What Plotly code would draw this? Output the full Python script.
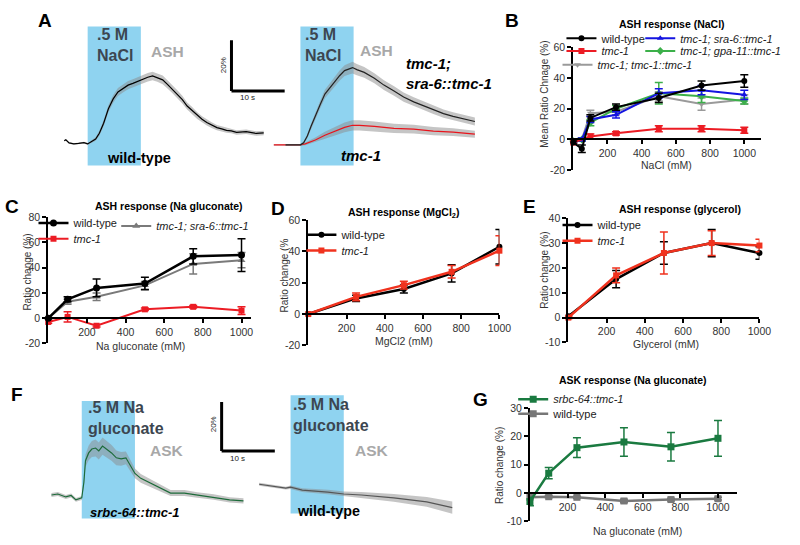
import plotly.graph_objects as go

W, H = 800, 545
FONT = "Liberation Sans, Arial, Helvetica, sans-serif"

# ======================= DATA =======================
# Panel A: ASH calcium traces (time s from stimulus onset, ratio change %, sem)
a_wt_t = [-4.4, -4.1, -3.5, -2.6, -1.7, -0.7, 0.0, 0.7, 1.5, 2.2, 3.0, 3.9, 4.8, 5.7, 6.7, 7.6, 8.5, 9.4, 10.4, 11.3,
          12.2, 13.1, 14.1, 15.0, 15.9, 16.9, 17.8, 18.7, 19.6, 20.6, 21.5, 22.4, 23.3, 24.3, 25.2, 26.1, 27.0, 28.0,
          29.8, 31.7, 33.1]
a_wt_v = [1.2, 1.6, 0.4, 0.0, 0.2, 0.5, 0.0, 0.8, 1.9, 4.2, 8.1, 13.8, 17.7, 20.4, 21.9, 23.1, 23.8, 24.6, 25.4, 26.2,
          26.7, 26.1, 25.2, 23.4, 21.6, 19.5, 17.4, 14.9, 13.2, 11.1, 9.7, 8.4, 7.4, 6.4, 5.9, 5.3, 5.1, 4.5,
          4.8, 4.1, 4.3]
a_wt_sem = [0.3, 0.3, 0.3, 0.3, 0.3, 0.3, 0.4, 0.5, 0.7, 1.0, 1.2, 1.4, 1.5, 1.6, 1.6, 1.6, 1.6, 1.7, 1.7, 1.7,
            1.7, 1.7, 1.7, 1.6, 1.6, 1.5, 1.5, 1.4, 1.4, 1.3, 1.2, 1.2, 1.1, 1.0, 1.0, 0.9, 0.9, 0.9,
            0.9, 0.9, 0.9]

a_res_t = [-2.8, -0.9, 0.0, 0.6, 1.3, 2.0, 2.8, 3.7, 4.6, 5.6, 6.5, 7.4, 8.3, 9.3, 9.8, 10.6, 12.0, 13.9, 15.7, 17.6,
           19.4, 21.3, 23.1, 25.0, 26.9, 28.7, 30.6, 32.8]
a_res_v = [0.0, 0.0, 0.0, 0.8, 3.5, 7.3, 11.5, 15.8, 20.0, 22.7, 25.0, 27.3, 29.2, 30.0, 30.4, 29.6, 28.5, 26.2, 23.5,
           21.2, 18.8, 16.9, 15.4, 13.8, 12.3, 11.2, 10.4, 9.2]
a_res_sem = [0.3, 0.3, 0.3, 0.5, 0.8, 1.0, 1.3, 1.5, 1.7, 1.8, 1.9, 2.0, 2.1, 2.2, 2.3, 2.2, 2.1, 2.0, 1.9, 1.9,
             1.8, 1.8, 1.7, 1.7, 1.6, 1.6, 1.6, 1.6]

a_mut_t = [-5.0, -3.7, -1.9, 0.0, 0.9, 2.8, 4.6, 6.5, 8.3, 9.8, 11.1, 13.9, 17.6, 21.3, 25.0, 28.7, 32.8]
a_mut_v = [0.0, 0.0, 0.0, 0.0, 0.4, 1.9, 3.8, 5.4, 6.9, 7.7, 7.7, 7.3, 6.5, 6.2, 5.4, 5.0, 4.2]
a_mut_sem = [0.3, 0.3, 0.3, 0.3, 0.5, 1.0, 1.4, 1.7, 1.9, 2.0, 2.0, 1.9, 1.8, 1.7, 1.6, 1.5, 1.4]

# Panel F: ASK traces
f_ask_t = [-5.7, -4.5, -3.0, -2.0, -1.1, 0.0, 0.4, 0.7, 1.3, 1.9, 2.6, 3.2, 3.9, 4.6, 5.6, 6.5, 7.4, 8.3, 9.1, 10.0,
           11.1, 13.0, 14.8, 16.7, 19.3, 21.7, 24.8, 27.8, 30.4]
f_ask_v = [0.8, 1.2, 0.0, 0.6, -1.2, -0.4, 6.0, 14.8, 18.0, 19.6, 20.0, 18.8, 20.8, 19.6, 18.0, 16.0, 15.6, 16.0, 12.8,
           9.6, 7.6, 5.6, 3.6, 1.6, 1.6, 0.8, 0.0, -1.2, -1.6]
f_ask_sem = [0.8, 0.8, 0.8, 0.8, 0.8, 0.8, 1.5, 2.5, 3.0, 3.3, 3.5, 3.5, 3.5, 3.4, 3.2, 3.0, 2.8, 2.6, 2.3, 2.0,
             1.8, 1.5, 1.3, 1.2, 1.2, 1.1, 1.1, 1.1, 1.1]

f_wt_t = [-5.9, -3.3, -0.9, 0.0, 2.2, 7.0, 10.0, 13.3, 19.4, 25.6, 30.4]
f_wt_v = [1.2, 0.4, -0.4, 0.0, -1.2, -2.0, -2.8, -3.2, -4.4, -6.0, -8.4]
f_wt_sem = [0.6, 0.6, 0.6, 0.7, 0.8, 0.9, 1.0, 1.2, 1.6, 2.0, 2.5]

stim = [0, 10]          # stimulus window, s
scale_t, scale_v = 10, 20   # scale bar: 10 s, 20 %

# Panel B: ASH response (NaCl)
b_conc = [0, 50, 100, 250, 500, 750, 1000]
b_wt = [-2, -6, 14, 21, 27, 35, 38]
b_wt_err = [1, 2.5, 2, 2, 3, 3, 4]
b_mut_conc = [0, 100, 250, 500, 750, 1000]
b_mut = [-2, 2, 4, 7, 7, 6]
b_mut_err = [1, 1.5, 1, 2, 2, 2]
b_sra6 = [-1, 0, 13, 16, 30, 32, 29]
b_sra6_err = [1, 1, 2, 2, 3, 3, 3]
b_gpa11 = [-1, 0, 11, 20, 30, 28, 25]
b_gpa11_err = [1, 1, 2, 2, 7, 4, 2]
b_tmc1 = [-1, 0, 17, 18, 28, 23, 26]
b_tmc1_err = [1, 1, 2, 2, 3, 4, 3]

# Panel C: ASH response (Na gluconate)
c_conc = [0, 100, 250, 500, 750, 1000]
c_wt = [0, 15, 24, 27.5, 49, 50]
c_wt_err = [0.5, 2, 7, 5, 6, 13]
c_mut = [-3, 1, -6, 7, 9, 6]
c_mut_err = [1, 4, 1, 1, 1, 3]
c_res = [0, 13, 17, 26, 43, 46]
c_res_err = [0.5, 2, 3, 3, 8, 6]

# Panel D: ASH response (MgCl2)
d_conc = [0, 250, 500, 750, 1000]
d_wt = [0, 10, 16, 26, 43]
d_wt_err = [0, 2, 2.5, 5.5, 11]
d_mut = [0, 11, 18.5, 27, 40.5]
d_mut_err = [0, 2.5, 2.5, 4, 9.5]

# Panel E: ASH response (glycerol)
e_conc = [0, 250, 500, 750, 1000]
e_wt = [0.5, 15.5, 26, 30, 26]
e_wt_err = [0.5, 3.5, 4.5, 5.5, 2.5]
e_mut = [0, 17, 26, 30, 29]
e_mut_err = [0.5, 3, 8.5, 5, 2.5]

# Panel G: ASK response (Na gluconate)
g_conc = [0, 100, 250, 500, 750, 1000]
g_ask = [-3, 7, 16, 18, 16.3, 19.3]
g_ask_err = [1.5, 2, 3.5, 5, 5, 6.3]
g_wt = [-1.5, -1.3, -1.5, -2.8, -2.3, -2.0]
g_wt_err = [0.5, 0.4, 0.4, 0.6, 0.5, 0.5]

# ======================= HELPERS =======================
def px(x):
    return x / W


def py(y):
    return 1 - y / H


fig = go.Figure()
layout = {}
shapes = []
annotations = []


def names(n):
    s = '' if n == 1 else str(n)
    return 'xaxis' + s, 'yaxis' + s, 'x' + s, 'y' + s


def trace_panel(n, xpx, ypx, onset_px, base_px, pps, ppp):
    xa, ya, xr, yr = names(n)
    layout[xa] = dict(domain=[px(xpx[0]), px(xpx[1])],
                      range=[(xpx[0] - onset_px) / pps, (xpx[1] - onset_px) / pps],
                      visible=False, anchor=yr, fixedrange=True)
    layout[ya] = dict(domain=[py(ypx[1]), py(ypx[0])],
                      range=[(base_px - ypx[1]) / ppp, (base_px - ypx[0]) / ppp],
                      visible=False, anchor=xr, fixedrange=True)


def stim_box(n, top_px, bot_px):
    _, _, xr, _ = names(n)
    shapes.append(dict(type='rect', xref=xr, yref='paper', x0=stim[0], x1=stim[1],
                       y0=py(bot_px), y1=py(top_px), fillcolor='#8fd3f0',
                       line=dict(width=0), layer='below'))


def scale_bar(n, t0, v0):
    _, _, xr, yr = names(n)
    ln = dict(color='black', width=3)
    shapes.append(dict(type='line', xref=xr, yref=yr, x0=t0, x1=t0, y0=v0, y1=v0 + scale_v, line=ln))
    shapes.append(dict(type='line', xref=xr, yref=yr, x0=t0, x1=t0 + scale_t, y0=v0, y1=v0, line=ln))


def trace_line(n, t, v, sem, color, width=1.2, band='rgba(140,140,140,0.5)'):
    _, _, xr, yr = names(n)
    up = [a + b for a, b in zip(v, sem)]
    lo = [a - b for a, b in zip(v, sem)]
    fig.add_trace(go.Scatter(x=t + t[::-1], y=up + lo[::-1], fill='toself', fillcolor=band,
                             line=dict(width=0), mode='lines', hoverinfo='skip', showlegend=False,
                             xaxis=xr, yaxis=yr))
    fig.add_trace(go.Scatter(x=t, y=v, mode='lines', line=dict(color=color, width=width),
                             showlegend=False, xaxis=xr, yaxis=yr))


def chart_panel(n, xpx, ypx, xrange, yrange, xticks, yticks):
    xa, ya, xr, yr = names(n)
    dy = [py(ypx[1]), py(ypx[0])]
    pos = dy[0] + (0 - yrange[0]) / (yrange[1] - yrange[0]) * (dy[1] - dy[0])
    common = dict(showline=True, linewidth=2, linecolor='black', ticks='outside', ticklen=4,
                  tickwidth=2, tickcolor='black', showgrid=False, zeroline=False, fixedrange=True,
                  tickfont=dict(size=10.5, color='#333', family=FONT))
    layout[xa] = dict(domain=[px(xpx[0]), px(xpx[1])], range=xrange, anchor='free', position=pos,
                      tickvals=xticks, ticktext=[str(v) for v in xticks], **common)
    layout[ya] = dict(domain=dy, range=yrange, anchor=xr,
                      tickvals=yticks, ticktext=[str(v) for v in yticks], **common)


def series(n, x, y, err, name, color, symbol, size, leg, lw=2):
    _, _, xr, yr = names(n)
    fig.add_trace(go.Scatter(x=x, y=y, mode='lines+markers', name=name,
                             line=dict(color=color, width=lw),
                             marker=dict(symbol=symbol, size=size, color=color, line=dict(width=0)),
                             error_y=dict(type='data', array=err, visible=True, color=color,
                                          thickness=1.5, width=4),
                             xaxis=xr, yaxis=yr, legend=leg, cliponaxis=False))


def legend_at(key, text_x, y, size=11):
    layout[key] = dict(x=px(text_x - 42), y=py(y), xanchor='left', yanchor='middle',
                       bgcolor='rgba(0,0,0,0)', borderwidth=0, itemwidth=30, tracegroupgap=0,
                       font=dict(size=size, family=FONT, color='#222'))


def text(s, x, y, size, color='#000', angle=0, xanchor='center', align='center'):
    annotations.append(dict(text=s, x=px(x), y=py(y), xref='paper', yref='paper', showarrow=False,
                            font=dict(size=size, color=color, family=FONT), textangle=angle,
                            xanchor=xanchor, yanchor='middle', align=align))


# ======================= PANEL A =======================
trace_panel(1, (55, 300), (15, 165), 89, 141, 5.4, 2.6)
trace_panel(2, (270, 500), (15, 165), 305, 142, 5.4, 2.6)
stim_box(1, 21, 163)
stim_box(2, 21, 163)
trace_line(1, a_wt_t, a_wt_v, a_wt_sem, 'black')
trace_line(2, a_mut_t, a_mut_v, a_mut_sem, '#e8141c')
trace_line(2, a_res_t, a_res_v, a_res_sem, '#222222')
scale_bar(1, (235 - 89) / 5.4, (141 - 87) / 2.6)

DARK = '#3c4650'
LIGHT = '#a8a8a8'
text('<b>A</b>', 46, 15, 19)
text('<b>.5 M<br>NaCl</b>', 96, 40, 16, DARK, xanchor='left', align='left')
text('<b>ASH</b>', 151, 47, 15.5, LIGHT, xanchor='left')
text('<b>wild-type</b>', 141, 155, 14.5)
text('<b>.5 M<br>NaCl</b>', 308, 40, 16, DARK, xanchor='left', align='left')
text('<b>ASH</b>', 363, 45, 15.5, LIGHT, xanchor='left')
text('<b><i>tmc-1;<br>sra-6::tmc-1</i></b>', 410, 69, 15, xanchor='left', align='left')
text('<b><i>tmc-1</i></b>', 367, 153, 15)
text('20%', 227, 61, 8, '#222', angle=-90)
text('10 s', 251, 94, 8, '#222')

# ======================= PANEL B =======================
chart_panel(3, (582, 773), (42, 168), [0, 1100], [-20, 60], [200, 400, 600, 800, 1000], [-20, 0, 20, 40, 60])
series(3, b_conc, b_tmc1, b_tmc1_err, '<i>tmc-1; tmc-1::tmc-1</i>', '#9a9a9a', 'triangle-down', 6, 'legend5')
series(3, b_conc, b_gpa11, b_gpa11_err, '<i>tmc-1; gpa-11::tmc-1</i>', '#3cb04a', 'diamond', 6, 'legend4')
series(3, b_conc, b_sra6, b_sra6_err, '<i>tmc-1; sra-6::tmc-1</i>', '#1414e0', 'triangle-up', 6, 'legend3')
series(3, b_mut_conc, b_mut, b_mut_err, '<i>tmc-1</i>', '#ec1c24', 'square', 6, 'legend2')
series(3, b_conc, b_wt, b_wt_err, 'wild-type', 'black', 'circle', 6, 'legend')
legend_at('legend', 612, 33)
legend_at('legend2', 612, 46)
legend_at('legend5', 608, 60)
legend_at('legend3', 692, 33)
legend_at('legend4', 692, 46)
text('<b>B</b>', 520, 15, 19)
text('<b>ASH response (NaCl)</b>', 682, 18, 10.5)
text('Mean Ratio Chnage (%)', 552, 90, 10, '#333', angle=-90)
text('NaCl (mM)', 677, 163, 10.5, '#333')

# ======================= PANEL C =======================
chart_panel(4, (49, 255), (216, 345), [0, 1050], [-20, 80], [200, 400, 600, 800, 1000], [-20, 0, 20, 40, 60, 80])
series(4, c_conc, c_res, c_res_err, '<i>tmc-1; sra-6::tmc-1</i>', '#7a7a7a', 'triangle-up', 7, 'legend8')
series(4, c_conc, c_mut, c_mut_err, '<i>tmc-1</i>', '#ec1c24', 'square', 6, 'legend7')
series(4, c_conc, c_wt, c_wt_err, 'wild-type', 'black', 'circle', 7, 'legend6', lw=2.5)
legend_at('legend6', 76, 222)
legend_at('legend7', 76, 238)
legend_at('legend8', 160, 225)
text('<b>C</b>', 12, 205, 19)
text('<b>ASH response (Na gluconate)</b>', 172, 205, 10.5)
text('Ratio change (%)', 27, 272, 10, '#333', angle=-90)
text('Na gluconate (mM)', 143, 348, 10.5, '#333')

# ======================= PANEL D =======================
chart_panel(5, (313, 507), (219, 347), [0, 1000], [-20, 60], [200, 400, 600, 800, 1000], [-20, 0, 20, 40, 60])
series(5, d_conc, d_wt, d_wt_err, 'wild-type', 'black', 'circle', 6, 'legend9', lw=2.5)
series(5, d_conc, d_mut, d_mut_err, '<i>tmc-1</i>', '#f0321e', 'square', 6, 'legend10', lw=2.5)
legend_at('legend9', 348, 234)
legend_at('legend10', 348, 250)
text('<b>D</b>', 282, 207, 19)
text('<b>ASH response (MgCl<sub>2</sub>)</b>', 410, 212, 10.5)
text('Ratio change (%', 289, 276, 10, '#333', angle=-90)
text('MgCl2 (mM)', 410, 343, 10.5, '#333')

# ======================= PANEL E =======================
chart_panel(6, (577, 771), (217, 344), [0, 1000], [-10, 40], [200, 400, 600, 800, 1000], [-10, 0, 10, 20, 30, 40])
series(6, e_conc, e_wt, e_wt_err, 'wild-type', 'black', 'circle', 6, 'legend11', lw=2.5)
series(6, e_conc, e_mut, e_mut_err, '<i>tmc-1</i>', '#f0321e', 'square', 6, 'legend12', lw=2.5)
legend_at('legend11', 608, 224)
legend_at('legend12', 608, 240)
text('<b>E</b>', 538, 205, 19)
text('<b>ASH response (glycerol)</b>', 690, 208, 10.5)
text('Ratio change (%)', 552, 270, 10, '#333', angle=-90)
text('Glycerol (mM)', 676, 346, 10.5, '#333')

# ======================= PANEL F =======================
trace_panel(7, (40, 290), (370, 530), 83, 502, 5.4, 2.5)
trace_panel(8, (250, 470), (370, 530), 295, 492, 5.4, 2.5)
stim_box(7, 404, 524)
stim_box(8, 398, 519)
trace_line(7, f_ask_t, f_ask_v, f_ask_sem, '#1d6b3a')
trace_line(8, f_wt_t, f_wt_v, f_wt_sem, '#555555')
scale_bar(7, (225 - 83) / 5.4, (502 - 455) / 2.5)
text('<b>F</b>', 17, 397, 19)
text('<b>.5 M Na<br>gluconate</b>', 87, 421, 16, DARK, xanchor='left', align='left')
text('<b>ASK</b>', 150, 455, 15.5, LIGHT, xanchor='left')
text('<b><i>srbc-64::tmc-1</i></b>', 137, 518, 13)
text('<b>.5 M Na<br>gluconate</b>', 295, 418, 16, DARK, xanchor='left', align='left')
text('<b>ASK</b>', 358, 455, 15.5, LIGHT, xanchor='left')
text('<b>wild-type</b>', 334, 516, 14.3)
text('20%', 217, 428, 8, '#222', angle=-90)
text('10 s', 241, 463, 8, '#222')

# ======================= PANEL G =======================
chart_panel(9, (538, 748), (411, 527), [0, 1100], [-10, 30], [200, 400, 600, 800, 1000], [-10, 0, 10, 20, 30])
series(9, g_conc, g_wt, g_wt_err, 'wild-type', '#777777', 'square', 7, 'legend14', lw=2.5)
series(9, g_conc, g_ask, g_ask_err, '<i>srbc-64::tmc-1</i>', '#1a7a40', 'square', 7, 'legend13', lw=2.5)
legend_at('legend13', 563, 402)
legend_at('legend14', 563, 417)
text('<b>G</b>', 488, 402, 19)
text('<b>ASK response (Na gluconate)</b>', 643, 382, 10.5)
text('Ratio change (%)', 507, 470, 10, '#333', angle=-90)
text('Na gluconate (mM)', 647, 537, 10.5, '#333')

fig.update_layout(width=W, height=H, autosize=False, margin=dict(l=0, r=0, t=0, b=0),
                  paper_bgcolor='white', plot_bgcolor='rgba(0,0,0,0)',
                  font=dict(family=FONT, color='#222'), shapes=shapes, annotations=annotations,
                  hovermode=False, **layout)
fig.write_html('out.html', config={'displayModeBar': False},
               post_script="document.body.style.margin='0px'; document.body.style.overflow='hidden';")
